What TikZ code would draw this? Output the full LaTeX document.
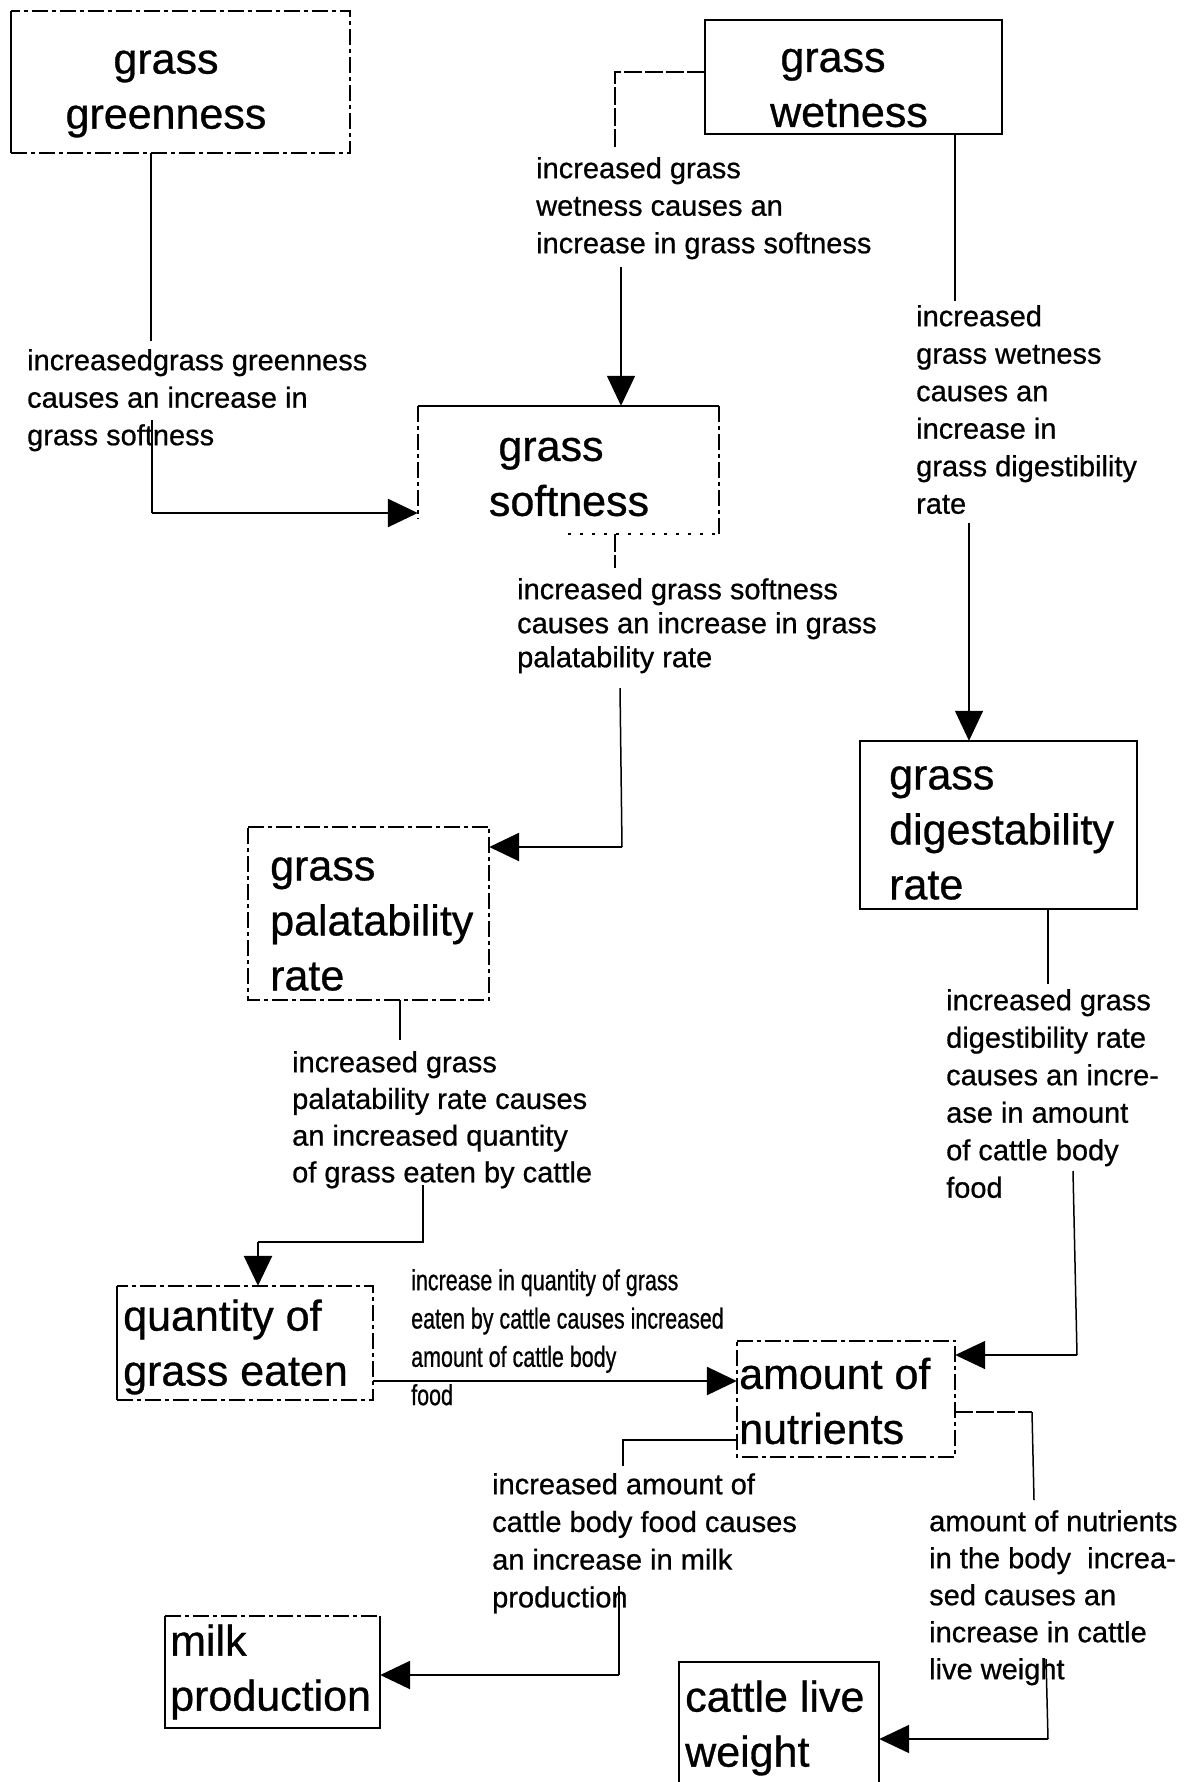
\documentclass[tikz,border=0pt]{standalone}
\usepackage{fontspec}
\setmainfont[FakeBold=0.7]{Liberation Sans}
\newfontfamily\narrowfont[FakeStretch=0.74,FakeBold=0.7]{Liberation Sans}
\usetikzlibrary{arrows.meta,calc}

\begin{document}
\begin{tikzpicture}[x=1pt,y=-1pt,
  boxshape/.style={draw=none,rectangle,inner sep=0pt},
  boxtext/.style={font=\fontsize{43}{55}\selectfont,inner sep=0pt,align=left},
  lbl/.style={font=\fontsize{29}{37.5}\selectfont,anchor=north west,align=left,inner sep=0pt},
  solidedge/.style={line width=1.6pt},
  brokenedge/.style={line width=1.6pt,dash pattern=on 16pt off 4pt on 4pt off 4pt},
  dotedge/.style={line width=1.6pt,dash pattern=on 3pt off 9pt},
  wire/.style={line width=1.5pt},
  stub/.style={line width=1.5pt,dash pattern=on 18pt off 3pt},
  thickwire/.style={line width=2.6pt},
  feed/.style={line width=2.6pt,-{Triangle[length=30pt,width=28pt]}},
  drop/.style={line width=1.5pt,-{Triangle[length=30pt,width=28pt]}},
]
\useasboundingbox[fill=white] (0,0) rectangle (1190,1782);

% ---------- boxes ----------
\node[boxshape,minimum width=339pt,minimum height=142pt] (gg) at (180.5,82) {};
\node[boxshape,minimum width=297pt,minimum height=114pt] (gw) at (853.5,77) {};
\node[boxshape,minimum width=301pt,minimum height=128pt] (gs) at (568.5,470) {};
\node[boxshape,minimum width=277pt,minimum height=168pt] (gd) at (998.5,825) {};
\node[boxshape,minimum width=241pt,minimum height=173pt] (gp) at (368.5,913.5) {};
\node[boxshape,minimum width=256pt,minimum height=114pt] (gq) at (245,1343) {};
\node[boxshape,minimum width=218pt,minimum height=116pt] (an) at (846,1399) {};
\node[boxshape,minimum width=215pt,minimum height=112pt] (mp) at (272.5,1672) {};
\node[boxshape,minimum width=200pt,minimum height=138pt] (cw) at (779,1731) {};

% box texts
\node[boxtext,align=center] (gg-t) at (166,94) {grass\\greenness};
\node[boxtext,align=center] (gw-t) at (849,88) {grass\hspace*{32pt}\\wetness};
\node[boxtext,align=center] (gs-t) at (569,477) {grass\hspace*{36pt}\\softness};
\node[boxtext,anchor=west] (gd-t) at (889,833) {grass\\digestability\\rate};
\node[boxtext,anchor=west] (gp-t) at (270,924) {grass\\palatability\\rate};
\node[boxtext,anchor=west] (gq-t) at (123,1347) {quantity of\\grass eaten};
\node[boxtext,anchor=west] (an-t) at (739,1401) {amount of\\nutrients};
\node[boxtext,anchor=west] (mp-t) at (170,1672) {milk\\production};
\node[boxtext,anchor=west] (cw-t) at (685,1728) {cattle live\\weight};

% box outlines
\draw[solidedge] (gg.north west) -- (gg.south west);
\draw[brokenedge] (gg.south west) -- (gg.south east) -- (gg.north east) -- (gg.north west);
\draw[solidedge] (gw.south west) rectangle (gw.north east);
\draw[solidedge] (gs.north west) -- (gs.north east);
\draw[brokenedge] (gs.north east) -- (gs.south east);
\draw[brokenedge] (gs.north west) -- ($(gs.south west)+(0,-16)$);
\draw[dotedge] ($(gs.south west)+(150,0)$) -- (gs.south east);
\draw[solidedge] (gd.south west) rectangle (gd.north east);
\draw[brokenedge] (gp.north west) -- (gp.north east) -- (gp.south east) -- (gp.south west) -- cycle;
\draw[solidedge] (gq.north west) -- (gq.south west);
\draw[brokenedge] (gq.south west) -- (gq.south east) -- (gq.north east) -- (gq.north west);
\draw[brokenedge] (an.north west) -- (an.north east) -- (an.south east) -- (an.south west) -- cycle;
\draw[brokenedge] (mp.north west) -- (mp.north east);
\draw[solidedge] (mp.north east) -- (mp.south east) -- (mp.south west) -- (mp.north west);
\draw[solidedge] (cw.south west) -- (cw.north west) -- (cw.north east) -- (cw.south east);

% ---------- labels ----------
\node[lbl] (l1) at (27,349) {increasedgrass greenness\\causes an increase in\\grass softness};
\node[lbl] (l2) at (536,157) {increased grass\\wetness causes an\\increase in grass softness};
\node[lbl] (l3) at (916,305) {increased\\grass wetness\\causes an\\increase in\\grass digestibility\\rate};
\node[lbl,font=\fontsize{29}{34}\selectfont] (l4) at (517,578) {increased grass softness\\causes an increase in grass\\palatability rate};
\node[lbl,font=\fontsize{29}{36.7}\selectfont] (l5) at (292,1051) {increased grass\\palatability rate causes\\an increased quantity\\of grass eaten by cattle};
\node[lbl] (l6) at (946,989) {increased grass\\digestibility rate\\causes an incre-\\ase in amount\\of cattle body\\food};
\node[lbl,font=\narrowfont\fontsize{29}{38.3}\selectfont] (l7) at (411,1269) {increase in quantity of grass\\eaten by cattle causes increased\\amount of cattle body\\food};
\node[lbl,font=\fontsize{29}{37.7}\selectfont] (l8) at (492,1473) {increased amount of\\cattle body food causes\\an increase in milk\\production};
\node[lbl,font=\fontsize{29}{37}\selectfont] (l9) at (929,1510) {amount of nutrients\\in the body\ \ increa-\\sed causes an\\increase in cattle\\live weight};

% ---------- connectors ----------
% greenness -> softness
\coordinate (c1a) at (151,341);
\coordinate (c1b) at (152,420);
\coordinate (c1c) at (152,513);
\draw[wire] (c1a |- gg.south) -- (c1a);
\draw[wire] (c1b) -- (c1c);
\draw[feed] (c1c) -- (c1c -| gs.west);

% wetness -> softness
\coordinate (c2a) at (615,72);
\coordinate (c2b) at (615,148);
\coordinate (c2c) at (621,267);
\draw[stub] (gw.west |- c2a) -- (c2a) -- (c2b);
\draw[drop] (c2c) -- (c2c |- gs.north);

% wetness -> digestability
\coordinate (c3a) at (955,301);
\coordinate (c3b) at (969,523);
\draw[wire] (c3a |- gw.south) -- (c3a);
\draw[drop] (c3b) -- (c3b |- gd.north);

% softness -> palatability
\coordinate (c4a) at (615,568);
\coordinate (c4b) at (620,688);
\coordinate (c4c) at (622,847);
\draw[stub] (c4a |- gs.south) -- (c4a);
\draw[wire] (c4b) -- (c4c);
\draw[feed] (c4c) -- (c4c -| gp.east);

% palatability -> quantity eaten
\coordinate (c5a) at (400,1040);
\coordinate (c5b) at (423,1185);
\coordinate (c5c) at (423,1242);
\coordinate (c5d) at (258,1242);
\draw[thickwire] (c5a |- gp.south) -- (c5a);
\draw[thickwire] (c5b) -- (c5c) -- (c5d);
\draw[drop,line width=2.6pt] (c5d) -- (c5d |- gq.north);

% quantity eaten -> nutrients
\coordinate (c6a) at (380,1381);
\draw[feed] (gq.east |- c6a) -- (an.west |- c6a);

% digestability -> nutrients
\coordinate (c7a) at (1048,984);
\coordinate (c7b) at (1073,1171);
\coordinate (c7c) at (1077,1355);
\draw[wire] (c7a |- gd.south) -- (c7a);
\draw[wire] (c7b) -- (c7c);
\draw[feed,line width=1.6pt] (c7c) -- (c7c -| an.east);

% nutrients -> milk production
\coordinate (c8a) at (623,1440);
\coordinate (c8b) at (623,1466);
\coordinate (c8c) at (619,1586);
\coordinate (c8d) at (619,1675);
\draw[thickwire] (an.west |- c8a) -- (c8a) -- (c8b);
\draw[wire] (c8c) -- (c8d);
\draw[feed] (c8d) -- (c8d -| mp.east);

% nutrients -> cattle live weight
\coordinate (c9a) at (1032,1412);
\coordinate (c9b) at (1034,1500);
\coordinate (c9c) at (1046,1659);
\coordinate (c9d) at (1048,1739);
\draw[stub] (an.east |- c9a) -- (c9a);
\draw[wire] (c9a) -- (c9b);
\draw[wire] (c9c) -- (c9d);
\draw[feed,line width=2pt] (c9d) -- (c9d -| cw.east);
\end{tikzpicture}
\end{document}
